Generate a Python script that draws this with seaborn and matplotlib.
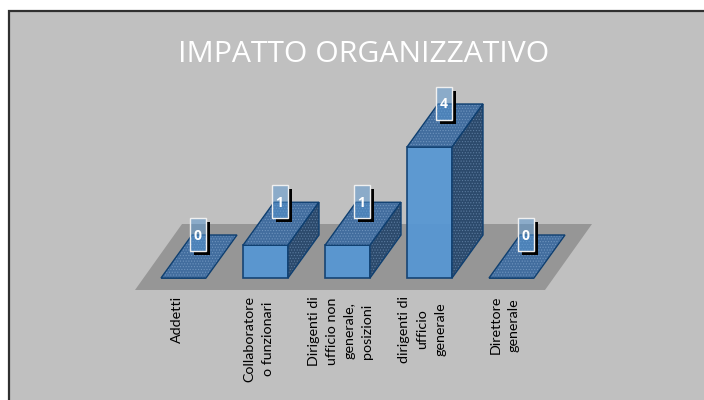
import matplotlib
matplotlib.use("Agg")
import matplotlib.pyplot as plt
import pandas as pd
import seaborn as sns
from matplotlib.patches import Polygon, Rectangle
from matplotlib.transforms import ScaledTranslation

categorie = ["Addetti", "Collaboratore\no funzionari",
             "Dirigenti di\nufficio non\ngenerale,\nposizioni",
             "dirigenti di\nufficio\ngenerale", "Direttore\ngenerale"]
valori = [0, 1, 1, 4, 0]
titolo = "IMPATTO ORGANIZZATIVO"

W, H = 704, 400
SFONDO = "#c0c0c0"
FRONTE = "#5797d3"
TOP = "#426d9e"
LATO = "#2c4a6c"
BORDO = "#0f3f70"
PAV = "#969696"

sns.set_theme(style="white")
plt.rcParams["font.family"] = ["Lato", "DejaVu Sans"]
plt.rcParams["hatch.linewidth"] = 0.5

fig = plt.figure(figsize=(W / 100, H / 100), dpi=100, facecolor="white")
# asse in pixel: 0 a y=278, 4 a y=147, categorie ogni 82 px
ax = fig.add_axes([142.5 / W, (H - 278) / H, 410 / W, 131 / H])
ax.patch.set_alpha(0)

df = pd.DataFrame({"cat": categorie, "val": valori})
sns.barplot(data=df, x="cat", y="val", color=FRONTE, saturation=1, width=45 / 82,
            edgecolor=BORDO, linewidth=1.2, alpha=0.94, ax=ax, zorder=3)
ax.set_xlim(-0.5, 4.5)
ax.set_ylim(0, 4)
ax.set_xlabel("")
ax.set_ylabel("")
ax.set_yticks([])
sns.despine(ax=ax, left=True, bottom=True)

ux = 5 / 410
uy = 4 / 131

# sfondo grigio con bordo solo sopra e a sinistra (gli altri lati escono dalla figura)
fig.add_artist(Rectangle((9 / W, -0.1), 1.2, (H - 11) / H + 0.1, transform=fig.transFigure,
                         facecolor=SFONDO, edgecolor="#303030", linewidth=1.6, zorder=-1))

# pavimento
x0 = -0.5 - 7.5 * ux
x1 = 4.5 - 7.5 * ux
y0 = -12 * uy
pav = [(x0, y0), (x1, y0), (x1 + 47 * ux, y0 + 66 * uy), (x0 + 47 * ux, y0 + 66 * uy)]
ax.add_patch(Polygon(pav, closed=True, facecolor=PAV, edgecolor="none", zorder=1, clip_on=False))


def faccia(punti, colore, puntini):
    ax.add_patch(Polygon(punti, closed=True, facecolor=colore, edgecolor=puntini, linewidth=0,
                         hatch="......", zorder=3, clip_on=False))
    ax.add_patch(Polygon(punti, closed=True, fill=False, edgecolor=BORDO, linewidth=1.0,
                         zorder=3, clip_on=False))


# facce 3D e etichette calcolate dalle barre
dx = 31 * ux
dy = 43 * uy
for bar, v in zip(ax.patches, valori):
    a = bar.get_x()
    b = a + bar.get_width()
    top = bar.get_height()
    bar.set_clip_on(False)
    faccia([(a, top), (b, top), (b + dx, top + dy), (a + dx, top + dy)], TOP, "#6d93bd")
    if v > 0:
        faccia([(b, 0), (b + dx, dy), (b + dx, top + dy), (b, top)], LATO, "#5a7a9e")
    # riquadro etichetta con ombra nera a destra e sotto
    cx = (a + b) / 2 + 14 * ux
    ly = top + 43.5 * uy
    bw, bh = 16 * ux, 33 * uy
    sx, sy = 4 * ux, 4 * uy
    l, r, g, t = cx - bw / 2, cx + bw / 2, ly - bh / 2, ly + bh / 2
    ombra = [(l + sx, g), (r, g), (r, t - sy), (r + sx, t - sy), (r + sx, g - sy), (l + sx, g - sy)]
    ax.add_patch(Polygon(ombra, closed=True, facecolor="black", edgecolor="none", zorder=5, clip_on=False))
    ax.add_patch(Rectangle((l, g), bw, bh, facecolor=FRONTE, alpha=0.5, edgecolor="none",
                           zorder=6, clip_on=False))
    ax.add_patch(Rectangle((l, g), bw, bh, fill=False, edgecolor="#f0f0f0", linewidth=1.0,
                           zorder=6, clip_on=False))
    ax.text(cx, ly - 1 * uy, str(v), color="white", fontsize=10, fontweight="bold", family="Open Sans",
            ha="center", va="center", zorder=7, clip_on=False)

ax.tick_params(axis="x", length=0, pad=13)
offset = ScaledTranslation(-7 / 100, 0, fig.dpi_scale_trans)
for lab in ax.get_xticklabels():
    lab.set_rotation(90)
    lab.set_ha("center")
    lab.set_va("top")
    lab.set_multialignment("center")
    lab.set_linespacing(1.6)
    lab.set_fontsize(10.3)
    lab.set_color("black")
    lab.set_transform(lab.get_transform() + offset)

fig.text(364 / W, (H - 55) / H, titolo, color="white", fontsize=21.7, family="Open Sans", fontweight="normal",
         ha="center", va="center")

fig.savefig("out.png", dpi=100, facecolor="white")
